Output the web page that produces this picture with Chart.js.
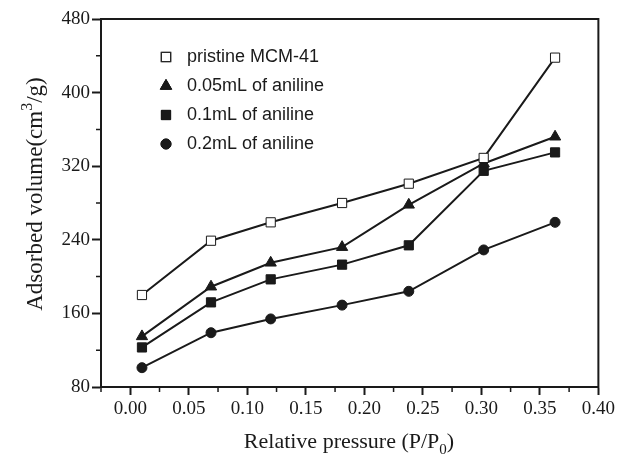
<!DOCTYPE html>
<html>
<head>
<meta charset="utf-8">
<script src="https://cdn.jsdelivr.net/npm/chart.js@4"></script>
<style>
  html, body { margin: 0; padding: 0; background: #fff; }
  #wrap { width: 618px; height: 465px; }
</style>
</head>
<body>
<div id="wrap"><canvas id="myChart"></canvas></div>
<script>
// relative pressure P/P0 (same for every series)
const pressure = [0.01, 0.069, 0.12, 0.181, 0.238, 0.302, 0.363];

const pristine = [180, 239, 259, 280, 301, 329, 438];
const aniline005 = [135, 189, 215, 232, 278, 323, 352];
const aniline01 = [123, 172, 197, 213, 234, 315, 335];
const aniline02 = [101, 139, 154, 169, 184, 229, 259];

const seriesNames = ['pristine MCM-41', '0.05mL of aniline', '0.1mL of aniline', '0.2mL of aniline'];

const xTicks = [0, 0.05, 0.1, 0.15, 0.2, 0.25, 0.3, 0.35, 0.4];
const xMinor = [-0.025, 0.025, 0.075, 0.125, 0.175, 0.225, 0.275, 0.325, 0.375];
const yTicks = [80, 160, 240, 320, 400, 480];
const yMinor = [120, 200, 280, 360, 440];

const ink = '#1a1a1a';
const serif = '"Liberation Serif", "Times New Roman", serif';

function pts(vals) {
  return vals.map((v, i) => ({ x: pressure[i], y: v }));
}

function ds(label, vals, style, fill, radius) {
  return {
    label: label,
    data: pts(vals),
    borderColor: ink,
    borderWidth: 2,
    pointStyle: style,
    pointRadius: radius,
    pointBackgroundColor: fill,
    pointBorderColor: ink,
    pointBorderWidth: 1,
    tension: 0
  };
}

const frame = {
  id: 'frame',
  afterDraw(chart) {
    const c = chart.ctx;
    const a = chart.chartArea;
    const sx = chart.scales.x, sy = chart.scales.y;
    c.save();
    c.strokeStyle = ink;
    c.lineWidth = 2;
    c.strokeRect(a.left, a.top, a.right - a.left, a.bottom - a.top);

    // minor ticks
    c.lineWidth = 1.5;
    c.beginPath();
    xMinor.forEach(v => {
      const px = sx.getPixelForValue(v);
      c.moveTo(px, a.bottom);
      c.lineTo(px, a.bottom + 5);
    });
    yMinor.forEach(v => {
      const py = sy.getPixelForValue(v);
      c.moveTo(a.left, py);
      c.lineTo(a.left - 5, py);
    });
    c.stroke();

    // legend inside plot
    const lx = a.left + 65, ly = a.top + 38, gap = 29;
    chart.data.datasets.forEach((d, i) => {
      const y = ly + i * gap;
      Chart.helpers.drawPoint(c, {
        pointStyle: d.pointStyle,
        radius: d.pointRadius,
        borderWidth: 1
      }, lx, y);
      c.fillStyle = d.pointBackgroundColor;
      c.strokeStyle = ink;
      c.lineWidth = 1;
      c.fill();
      c.stroke();
      c.fillStyle = ink;
      c.font = '18px "Liberation Sans", Arial, sans-serif';
      c.textAlign = 'left';
      c.textBaseline = 'middle';
      c.fillText(d.label, lx + 21, y);
    });

    // axis titles with sub/superscripts
    c.fillStyle = ink;
    c.textBaseline = 'alphabetic';
    c.textAlign = 'left';
    const big = '22px ' + serif;
    const small = '15px ' + serif;

    // x title
    const t1 = 'Relative pressure (P/P';
    c.font = big; const w1 = c.measureText(t1).width;
    c.font = small; const w2 = c.measureText('0').width;
    c.font = big; const w3 = c.measureText(')').width;
    const x0 = 349 - (w1 + w2 + w3) / 2;
    const yb = 448;
    c.fillText(t1, x0, yb);
    c.font = small;
    c.fillText('0', x0 + w1, yb + 6);
    c.font = big;
    c.fillText(')', x0 + w1 + w2, yb);

    // y title
    const bigY = '23px ' + serif;
    const smallY = '16px ' + serif;
    c.save();
    c.translate(42, 194);
    c.rotate(-Math.PI / 2);
    const s1 = 'Adsorbed volume(cm', s2 = '3', s3 = '/g)';
    c.font = bigY; const v1 = c.measureText(s1).width;
    c.font = smallY; const v2 = c.measureText(s2).width;
    c.font = bigY; const v3 = c.measureText(s3).width;
    const p = -(v1 + v2 + v3) / 2;
    c.font = bigY; c.fillText(s1, p, 0);
    c.font = smallY; c.fillText(s2, p + v1, -10);
    c.font = bigY; c.fillText(s3, p + v1 + v2, 0);
    c.restore();

    c.restore();
  }
};

new Chart(document.getElementById('myChart'), {
  type: 'line',
  data: {
    datasets: [
      ds(seriesNames[0], pristine, 'rect', '#ffffff', 6.5),
      ds(seriesNames[1], aniline005, 'triangle', ink, 6.5),
      ds(seriesNames[2], aniline01, 'rect', ink, 6.5),
      ds(seriesNames[3], aniline02, 'circle', ink, 5)
    ]
  },
  options: {
    responsive: true,
    maintainAspectRatio: false,
    animation: false,
    events: [],
    layout: { padding: { left: 0, right: 18, top: 19, bottom: 0 } },
    plugins: {
      legend: { display: false },
      tooltip: { enabled: false },
      title: { display: false }
    },
    scales: {
      x: {
        type: 'linear',
        min: -0.025,
        max: 0.4,
        afterBuildTicks: s => { s.ticks = xTicks.map(v => ({ value: v })); },
        afterFit: s => { s.height = 78; },
        grid: { drawOnChartArea: false, tickLength: 8, tickWidth: 2, tickColor: ink },
        border: { display: true, color: ink, width: 2 },
        ticks: {
          color: ink,
          padding: 3,
          maxRotation: 0,
          font: { family: serif, size: 19 },
          callback: v => v.toFixed(2)
        }
      },
      y: {
        type: 'linear',
        min: 80,
        max: 480,
        afterBuildTicks: s => { s.ticks = yTicks.map(v => ({ value: v })); },
        afterFit: s => { s.width = 101; },
        grid: { drawOnChartArea: false, tickLength: 9, tickWidth: 2, tickColor: ink },
        border: { display: true, color: ink, width: 2 },
        ticks: {
          color: ink,
          padding: 2,
          font: { family: serif, size: 19 }
        }
      }
    }
  },
  plugins: [frame]
});
</script>
</body>
</html>
